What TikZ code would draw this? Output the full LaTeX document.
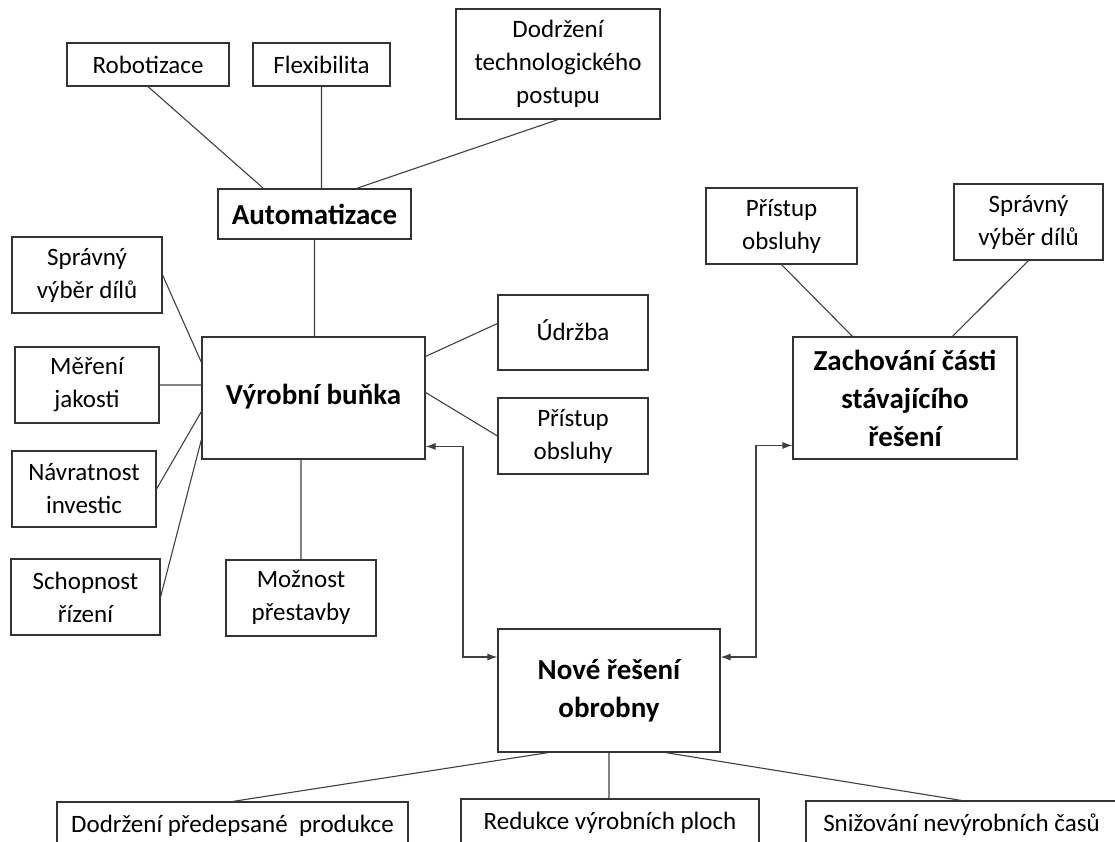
\documentclass[tikz,border=0pt]{standalone}
\usepackage{fontspec}
\setmainfont{Carlito}
\usepackage{tikz}
\usetikzlibrary{arrows.meta}
\tikzset{
    box/.style = {
        draw           = black!80,
        line width     = 1.1pt,
        align          = center,
        inner sep      = 0pt,
        font           = \fontsize{25}{33}\selectfont,
    },
    mainbox/.style = {
        box,
        font           = \fontsize{29}{38}\selectfont\bfseries,
    },
    link/.style  = {draw = black!75, line width = 1.1pt},
    twoway/.style = {link, {Latex[length=10pt,width=7pt]}-{Latex[length=10pt,width=7pt]}},
}

\begin{document}
\begin{tikzpicture}[x=1pt, y=-1pt]
        \clip (0,0) rectangle (1115,841);

        \node (autom) [mainbox, minimum width=193, minimum height=50] at (314.5,214) {Automatizace};
        \node (robot) [box, minimum width=162, minimum height=43] at (148,64.5) {Robotizace};
        \node (flex)  [box, minimum width=137, minimum height=43] at (321.5,64.5) {Flexibilita};
        \node (postup) [box, minimum width=204, minimum height=110] at (558,64) {Dodržení\\technologického\\postupu};

        \node (bunka) [mainbox, minimum width=223, minimum height=122] at (313.5,398) {\raisebox{8pt}{Výrobní buňka}};
        \node (vyberL) [box, minimum width=150, minimum height=76] at (87,275) {Správný\\výběr dílů};
        \node (jakost) [box, minimum width=144, minimum height=76] at (87,385) {Měření\\jakosti};
        \node (navrat) [box, minimum width=144, minimum height=76] at (84,489) {Návratnost\\investic};
        \node (rizeni) [box, minimum width=149, minimum height=76] at (85.5,597) {Schopnost\\řízení};
        \node (prestavba) [box, minimum width=150, minimum height=76] at (301,598) {Možnost\\přestavby};
        \node (udrzba) [box, minimum width=150, minimum height=75] at (573,332.5) {\raisebox{5pt}{Údržba}};
        \node (obsluhaM) [box, minimum width=150, minimum height=76] at (573,436) {Přístup\\obsluhy};

        \node (zachovani) [mainbox, minimum width=224, minimum height=122] at (905,398) {Zachování části\\stávajícího\\řešení};
        \node (obsluhaR) [box, minimum width=151, minimum height=76] at (781.5,226) {Přístup\\obsluhy};
        \node (vyberR) [box, minimum width=149, minimum height=76] at (1028.5,222) {Správný\\výběr dílů};

        \node (nove) [mainbox, minimum width=222, minimum height=123] at (609,690.5) {Nové řešení\\obrobny};
        \node (produkce) [box, minimum width=351, minimum height=48] at (232.5,826) {Dodržení předepsané~ produkce};
        \node (plochy) [box, minimum width=298, minimum height=48] at (610,823) {Redukce výrobních ploch};
        \node (casy) [box, minimum width=311, minimum height=48] at (961.5,825) {Snižování nevýrobních časů};

        \path [link] (robot.south) -- ([xshift=46pt]autom.north west)
                     (flex.south) -- (flex.south |- autom.north)
                     ([xshift=139pt]autom.north west) -- (postup.south)
                     (autom.south) -- (autom.south |- bunka.north);

        \path [link] (vyberL.east) -- ([yshift=-26pt]bunka.north west)
                     (jakost.east) -- (bunka.west |- jakost.east)
                     (navrat.east) -- ([yshift=-75pt]bunka.north west)
                     (rizeni.east) -- ([yshift=-103pt]bunka.north west)
                     (prestavba.north) -- (prestavba.north |- bunka.south)
                     ([yshift=-20pt]bunka.north east) -- ([yshift=9pt]udrzba.west)
                     ([yshift=-56pt]bunka.north east) -- (obsluhaM.west);

        \path [link] (obsluhaR.south) -- ([xshift=60pt]zachovani.north west)
                     (vyberR.south) -- ([xshift=160pt]zachovani.north west);

        \coordinate (lk) at (463,657);
        \coordinate (rk) at (756,657);
        \draw [twoway] ([yshift=-110pt]bunka.north east) -| (lk) -- (lk -| nove.west);
        \draw [twoway] ([yshift=-109pt]zachovani.north west) -| (rk) -- (rk -| nove.east);

        \path [link] ([xshift=51pt]nove.south west) -- (produkce.north)
                     (nove.south) -- (nove.south |- plochy.north)
                     ([xshift=168pt]nove.south west) -- (casy.north);

    \end{tikzpicture}
\end{document}
